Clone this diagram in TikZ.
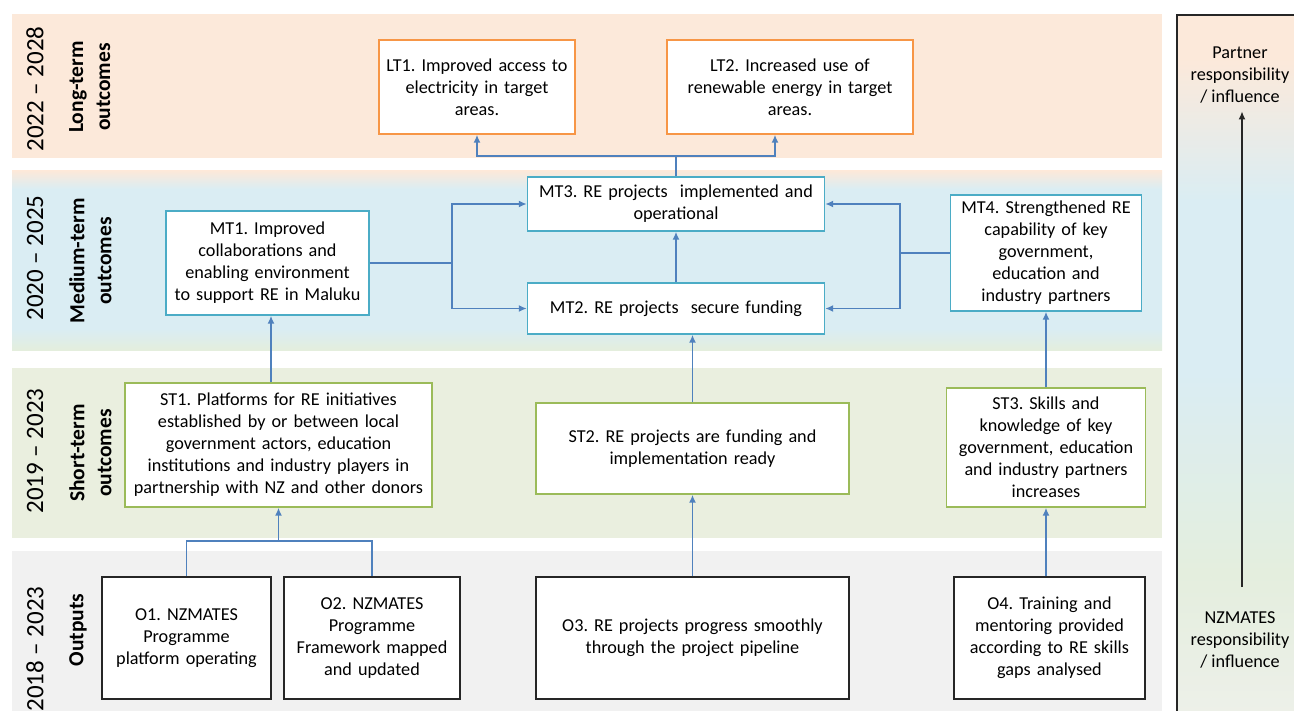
\documentclass[tikz,border=0pt]{standalone}
\usepackage{fontspec}
\setmainfont{Carlito}
\usepackage{xcolor}
\usetikzlibrary{arrows.meta,positioning}
\frenchspacing

\definecolor{peach}{HTML}{FCE9DA}
\definecolor{midblue}{HTML}{DAEDF3}
\definecolor{midgreen}{HTML}{E4EEDC}
\definecolor{shortgreen}{HTML}{EAEFDF}
\definecolor{outgray}{HTML}{F1F1F1}
\definecolor{panelgreen}{HTML}{E4EEDE}
\definecolor{panelgray}{HTML}{EEF0EA}
\definecolor{ltorange}{HTML}{F79646}
\definecolor{mtblue}{HTML}{4BACC6}
\definecolor{stgreen}{HTML}{9BBB59}
\definecolor{connblue}{HTML}{4F81BD}

\pgfdeclareverticalshading{midshade}{100bp}{color(0bp)=(midgreen); color(25bp)=(midgreen);
  color(31bp)=(midblue); color(70bp)=(midblue); color(75bp)=(peach); color(100bp)=(peach)}
\pgfdeclareverticalshading{panelshade}{100bp}{color(0bp)=(panelgray); color(25bp)=(panelgray);
  color(36bp)=(panelgreen); color(50bp)=(midblue); color(62bp)=(midblue); color(72bp)=(peach);
  color(100bp)=(peach)}

\begin{document}
\begin{tikzpicture}[
    x=1pt, y=-1pt,
    font=\fontsize{18.2}{22}\selectfont,
    box/.style={draw, fill=white, align=center, inner sep=0pt, line width=1.4pt},
    sz/.style n args={3}{minimum width=#1pt, minimum height=#2pt, text width=#3pt},
    ltbox/.style={box, draw=ltorange},
    mtbox/.style={box, draw=mtblue},
    stbox/.style={box, draw=stgreen},
    outbox/.style={box, draw=black!85},
    conn/.style={draw=connblue, line width=1.7pt},
    arrow/.style={conn, -{Latex[length=8pt,width=7pt]}},
    yearlabel/.style={rotate=90, inner sep=0pt, font=\fontsize{25}{30}\selectfont},
    bandlabel/.style={rotate=90, anchor=north, align=center, inner sep=0pt,
                      font=\bfseries\fontsize{21.5}{27}\selectfont},
    paneltext/.style={align=center, inner xsep=0pt, inner ysep=8pt},
    panelarrow/.style={draw=black!85, line width=1.4pt, -{Latex[length=8pt,width=7pt]}}
]
\clip (0,0) rectangle (1294,711);

% bands
\fill[peach] (12,14) rectangle (1162,158);
\shade[shading=midshade] (12,171) rectangle (1162,351);
\fill[shortgreen] (12,368) rectangle (1162,538);
\fill[outgray] (12,551) rectangle (1162,720);
\shade[shading=panelshade, draw=black!85, line width=1.4pt] (1177,15) rectangle (1320,730);

% band labels
\node[yearlabel] (ylong) at (35,89) {2022 – 2028};
\node[bandlabel] (llong) at (69,87) {Long-term\\outcomes};
\node[yearlabel] (ymed) at (35,258) {2020 – 2025};
\node[bandlabel] (lmed) at (69,261) {Medium-term\\outcomes};
\node[yearlabel] (yshort) at (35,451) {2019 – 2023};
\node[bandlabel] (lshort) at (69,453) {Short-term\\outcomes};
\node[yearlabel] (yout) at (35,649) {2018 – 2023};
\node[bandlabel] (lout) at (69,630) {Outputs};

% long-term
\node[ltbox, sz={196}{94}{188}] (lt1) at (477,87) {LT1. Improved access to\\electricity in target\\areas.};
\node[ltbox, sz={246}{94}{238}] (lt2) at (790,87) {LT2. Increased use of\\renewable energy in target\\areas.};

% medium-term
\node[mtbox, sz={297}{54}{289}] (mt3) at (676,204) {MT3. RE projects~ implemented and\\operational};
\node[mtbox, sz={297}{51}{289}] (mt2) at (676,308.5) {MT2. RE projects~ secure funding};
\node[mtbox, sz={203}{104}{195}] (mt1) at (267.5,263) {MT1. Improved\\collaborations and\\enabling environment\\to support RE in Maluku};
\node[mtbox, sz={191}{116}{183}] (mt4) at (1046,253) {MT4. Strengthened RE\\capability of key\\government,\\education and\\industry partners};

% short-term
\node[stbox, sz={307}{124}{299}] (st1) at (278.5,445) {ST1. Platforms for RE initiatives\\established by or between local\\government actors, education\\institutions and industry players in\\partnership with NZ and other donors};
\node[stbox, sz={313}{91}{305}] (st2) at (692.5,448.5) {ST2. RE projects are funding and\\implementation ready};
\node[stbox, sz={199}{119}{191}] (st3) at (1046,447.5) {ST3. Skills and\\knowledge of key\\government, education\\and industry partners\\increases};

% outputs
\node[outbox, sz={169}{122}{161}] (o1) at (186.5,638) {O1. NZMATES\\Programme\\platform operating};
\node[outbox, sz={176}{122}{168}] (o2) at (372,638) {O2. NZMATES\\Programme\\Framework mapped\\and updated};
\node[outbox, sz={313}{122}{305}] (o3) at (692.5,638) {O3. RE projects progress smoothly\\through the project pipeline};
\node[outbox, sz={191}{122}{183}] (o4) at (1049.5,638) {O4. Training and\\mentoring provided\\according to RE skills\\gaps analysed};

% responsibility panel
\node[paneltext] (partner) at (1240,75) {Partner\\responsibility\\/ influence};
\node[paneltext] (nzmates) at (1240,640) {NZMATES\\responsibility\\/ influence};
\coordinate (infbase) at (1242,587);
\draw[panelarrow] (infbase) -- (infbase |- partner.south);

% connectors
\coordinate (ltfork) at (676,156);
\draw[conn] (mt3.north) -- (ltfork);
\draw[arrow] (ltfork) -| (lt1.south);
\draw[arrow] (ltfork) -| ([xshift=-15pt]lt2.south);

\coordinate (lfork) at (452,263);
\draw[conn, line width=2.6pt] (mt1.east) -- (lfork);
\draw[arrow] (lfork) |- (mt3.west);
\draw[arrow] (lfork) |- (mt2.west);

\coordinate (rfork) at (900,253);
\draw[conn] (mt4.west) -- (rfork);
\draw[arrow] (rfork) |- (mt3.east);
\draw[arrow] (rfork) |- (mt2.east);

\draw[arrow] (mt2.north) -- (mt3.south);
\draw[arrow] (st2.north) -- (st2.north |- mt2.south);
\draw[arrow] (o3.north) -- (st2.south);

\coordinate (mt1in) at ([xshift=3.5pt]mt1.south);
\draw[arrow] (mt1in |- st1.north) -- (mt1in);

\coordinate (ofork) at (278.5,541);
\draw[conn] (o1.north) |- (ofork) -| (o2.north);
\draw[arrow] (ofork) -- (st1.south);

\draw[arrow] (st3.south |- o4.north) -- (st3.south);
\draw[arrow] (st3.north) -- (mt4.south);
\end{tikzpicture}
\end{document}
